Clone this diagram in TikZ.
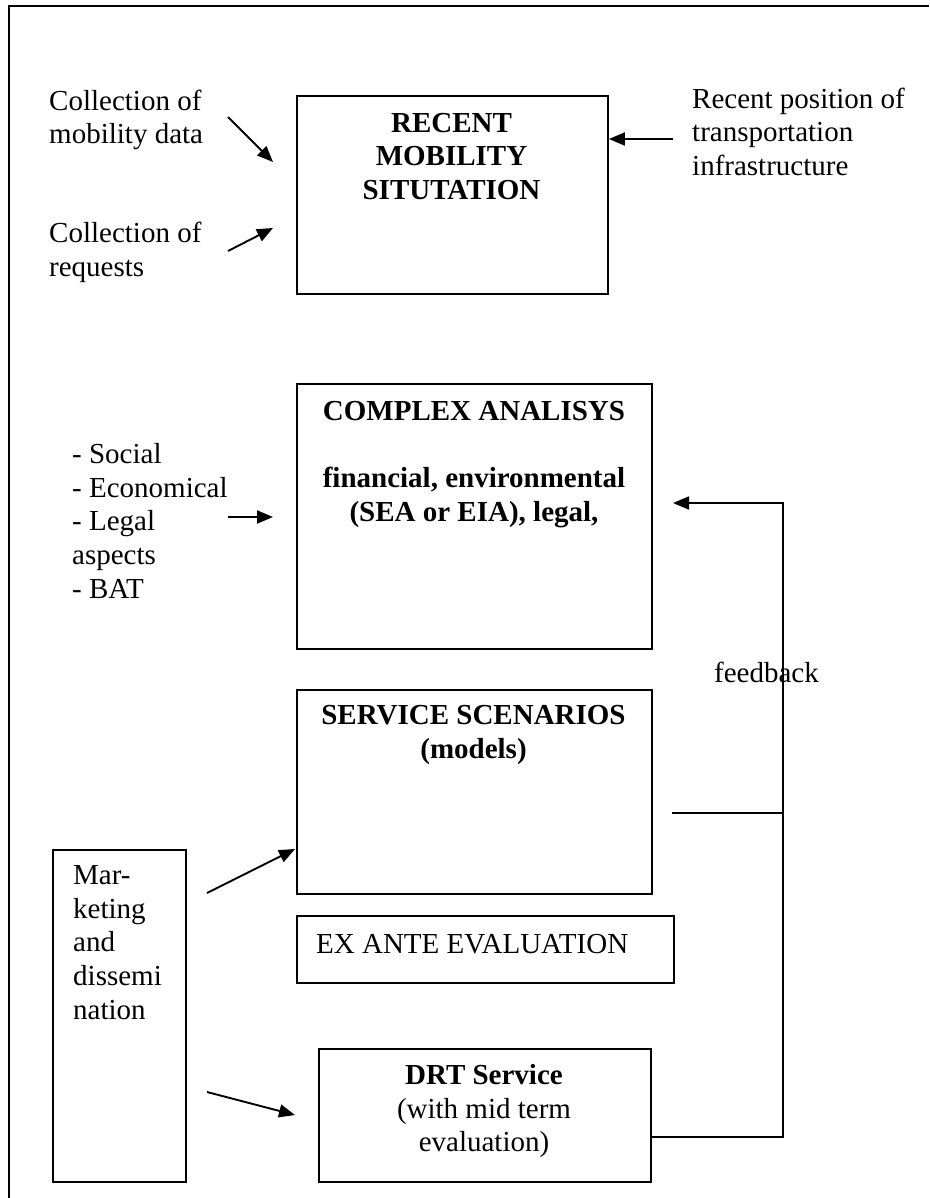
\documentclass[tikz,border=0pt]{standalone}
\usepackage{fontspec}
\setmainfont{Liberation Serif}
\usetikzlibrary{arrows.meta,calc}
\begin{document}
\begin{tikzpicture}[x=1pt,y=-1pt,
  every node/.style={inner sep=0pt, font=\fontsize{29}{33.8}\selectfont},
  box/.style={draw, line width=1.9pt, anchor=north west, minimum width=#1},
  tl/.style={anchor=north west, yshift=23.66pt, align=left},
  tc/.style={anchor=north, yshift=23.66pt, align=center},
  tip/.style={-{Triangle[length=16pt,width=13pt]}},
  arr/.style={tip, line width=1.9pt},
  fb/.style={line width=1.7pt}]
\useasboundingbox (0,0) rectangle (929,1198);
\draw[line width=1.9pt] (929,6) -- (9,6) -- (9,1198);

% boxes
\node[box=311pt, minimum height=198pt] (rms) at (296,95) {};
\node[box=355pt, minimum height=265pt] (cx) at (296,383) {};
\node[box=355pt, minimum height=204pt] (ss) at (296,689) {};
\node[box=377pt, minimum height=67pt] (ea) at (296,915) {};
\node[box=332pt, minimum height=133pt] (drt) at (318,1048) {};
\node[box=133pt, minimum height=332pt] (mk) at (52,849) {};

% texts inside boxes
\node[tc] (rmsT) at (451.5,132) {\bfseries\strut RECENT\\\bfseries\strut MOBILITY\\\bfseries\strut SITUTATION};
\node[tc] (cxT) at (474,420) {\bfseries\strut COMPLEX ANALISYS\\\strut\\\bfseries\strut financial, environmental\\\bfseries\strut (SEA or EIA), legal,};
\node[tc] (ssT) at (473.5,724) {\bfseries\strut SERVICE SCENARIOS\\\bfseries\strut (models)};
\node[anchor=base west] (eaT) at (316,953) {EX ANTE EVALUATION};
\node[tc] (drtT) at (484,1084) {\bfseries\strut DRT Service\\\strut (with mid term\\\strut evaluation)};
\node[tl] (mkT) at (73,884) {\strut Mar-\\\strut keting\\\strut and\\\strut dissemi\\\strut nation};

% outside texts
\node[tl] (col1) at (49,110) {\strut Collection of\\\strut mobility data};
\node[tl] (col2) at (49,242) {\strut Collection of\\\strut requests};
\node[tl] (infra) at (692,108) {\strut Recent position of\\\strut transportation\\\strut infrastructure};
\node[tl] (asp) at (72,463) {\strut - Social\\\strut - Economical\\\strut - Legal\\\strut aspects\\\strut - BAT};
\node[anchor=base west] (fbT) at (714,682) {feedback};

% arrows
\coordinate (a1s) at (228,117); \coordinate (a1e) at (273,162);
\coordinate (a2s) at (228,251); \coordinate (a2e) at (273,228);
\coordinate (a3s) at (673,139);
\coordinate (a4s) at (228,517); \coordinate (a4e) at (273,517);
\coordinate (a5s) at (207,893); \coordinate (a5e) at (295,849);
\coordinate (a6s) at (207,1092); \coordinate (a6e) at (295,1115);
\draw[arr] (a1s) -- (a1e);
\draw[arr] (a2s) -- (a2e);
\draw[arr] (a3s) -- (a3s -| rms.east);
\draw[arr] (a4s) -- (a4e);
\draw[arr] (a5s) -- (a5e);
\draw[arr] (a6s) -- (a6e);

% feedback loop
\coordinate (fbtop) at (783,503);
\coordinate (fbbot) at (783,1137);
\coordinate (fbtip) at (673,503);
\coordinate (scen) at (672,813);
\draw[fb, tip] (drt.east |- fbbot) -- (fbbot) -- (fbtop) -- (fbtip);
\draw[fb] (scen) -- (scen -| fbtop);
\end{tikzpicture}
\end{document}
